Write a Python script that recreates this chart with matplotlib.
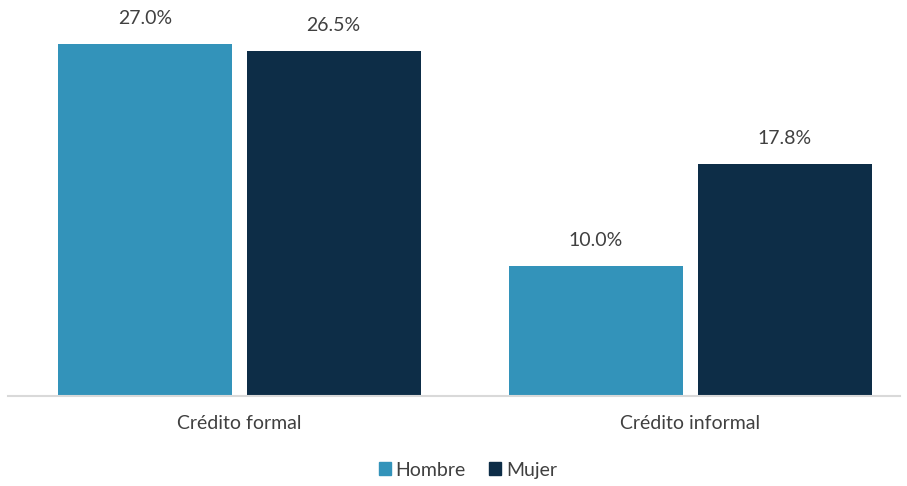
import matplotlib
matplotlib.use("Agg")
import matplotlib.pyplot as plt
from matplotlib.patches import Patch

categories = ["Crédito formal", "Crédito informal"]
series_names = ["Hombre", "Mujer"]
hombre = [27.0, 10.0]
mujer = [26.5, 17.8]
colors = ["#3393BA", "#0D2D47"]

plt.rcParams['font.family'] = ['Lato', 'DejaVu Sans']

fig = plt.figure(figsize=(9.07, 4.86), dpi=100)
ax = fig.add_axes([8/907, 1-396/486, 892/907, 391/486])

x = list(range(len(categories)))
w = 0.386
off = 0.209
for vals, c, sgn, name in [(hombre, colors[0], -1, series_names[0]), (mujer, colors[1], 1, series_names[1])]:
    xs = [xi + sgn*off for xi in x]
    bars = ax.bar(xs, vals, width=w, color=c, label=name)
    for b, v in zip(bars, vals):
        ax.annotate(f"{v:.1f}%", (b.get_x()+b.get_width()/2, v), xytext=(0, 12),
                    textcoords="offset points", ha="center", va="bottom",
                    fontsize=14, color="#404040")

ax.set_xlim(-0.513, 1.465)
ax.set_ylim(0, 30)
for s in ["top", "right", "left"]:
    ax.spines[s].set_visible(False)
ax.spines["bottom"].set_color("#D9D9D9")
ax.spines["bottom"].set_linewidth(1.5)
ax.set_yticks([])
ax.set_xticks(x)
ax.set_xticklabels(categories, fontsize=14, color="#404040")
ax.tick_params(axis="x", length=0, pad=14)

handles = [Patch(color=colors[0]), Patch(color=colors[1])]
fig.legend(handles, series_names, loc="center", bbox_to_anchor=(468/907, 1-470/486),
           ncol=2, frameon=False, fontsize=14, handlelength=0.6, handleheight=0.6,
           handletextpad=0.25, columnspacing=1.2, labelcolor="#404040")

fig.savefig("out.png", dpi=100)
